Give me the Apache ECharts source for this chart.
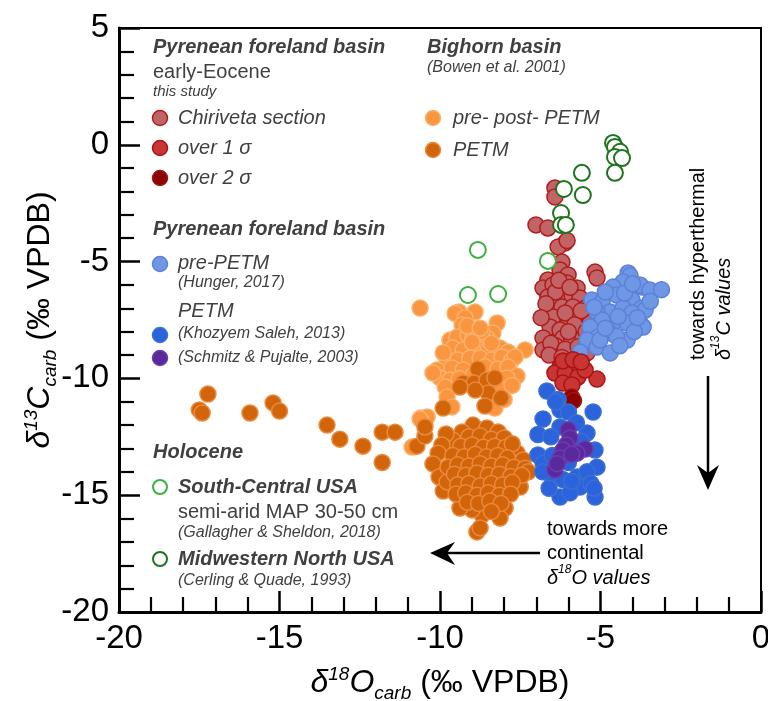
<!DOCTYPE html>
<html>
<head>
<meta charset="utf-8">
<script src="https://cdn.jsdelivr.net/npm/echarts@6/dist/echarts.min.js"></script>
<style>html,body{margin:0;padding:0;background:#fff;}#c{width:768px;height:701px;}</style>
</head>
<body>
<div id="c"></div>
<script>
// ---- axis settings ----
const xRange = [-20, 0];
const yRange = [-20, 5];
const tickStep = 5;

// ---- data: [d18O, d13C] ----
const bighornPrePost = [[-10.62,-6.99],[-9.41,-7.16],[-8.91,-7.16],[-9.53,-7.22],[-9.22,-7.41],[-9.31,-7.71],[-8.22,-7.63],[-8.35,-8.06],[-9.69,-8.36],[-9.47,-8.23],[-9.13,-8.14],[-8.97,-8.27],[-8.54,-8.27],[-8.7,-8.0],[-9.6,-8.7],[-9.28,-8.78],[-8.85,-8.7],[-8.5,-8.78],[-8.13,-8.7],[-7.88,-8.87],[-7.35,-8.78],[-9.78,-9.21],[-9.44,-9.21],[-9.07,-9.13],[-8.75,-9.13],[-8.38,-9.21],[-8.07,-9.08],[-7.76,-9.21],[-7.66,-9.08],[-10.09,-9.64],[-9.63,-9.55],[-9.28,-9.64],[-8.6,-9.5],[-8.2,-9.6],[-7.88,-9.51],[-7.6,-9.9],[-7.91,-9.98],[-10.0,-9.98],[-10.22,-9.77],[-9.69,-10.07],[-9.84,-10.37],[-8.22,-10.37],[-7.75,-10.3],[-9.78,-10.8],[-8.29,-11.27],[-8.0,-10.9],[-9.63,-11.22],[-10.6,-11.7],[-10.4,-11.65],[-10.62,-11.74],[-10.87,-12.94],[-9.0,-9.9],[-9.4,-10.0],[-8.4,-8.5],[-9.9,-8.9],[-9.0,-8.45],[-9.15,-7.75],[-8.75,-7.85]];
const bighornPETM = [[-17.23,-10.67],[-17.5,-11.35],[-17.41,-11.48],[-15.92,-11.48],[-15.2,-11.05],[-15.0,-11.4],[-13.52,-12.0],[-13.12,-12.6],[-12.4,-12.9],[-11.8,-12.3],[-11.4,-12.3],[-11.8,-13.6],[-10.72,-12.9],[-10.47,-12.47],
[-8.82,-9.6],[-9.28,-10.2],[-8.94,-10.2],[-8.54,-10.07],[-8.29,-9.98],[-8.5,-10.62],[-8.1,-10.84],[-8.6,-11.18],[-9.9,-11.27],[-9.38,-10.37],[-8.9,-10.5],[-10.47,-12.08],
[-8.97,-12.0],[-8.54,-12.12],[-8.19,-12.29],[-9.31,-12.29],[-9.6,-12.64],[-9.81,-12.38],[-9.94,-12.85],[-10.06,-13.2],[-10.22,-13.66],[-10.03,-14.22],[-9.9,-14.82],[-9.78,-14.43],[-7.6,-13.19],[-7.41,-13.49],[-7.5,-14.65],[-7.97,-15.55],[-8.13,-15.98],[-8.69,-15.85],[-9.0,-15.63],[-9.38,-15.55],[-8.85,-16.57],[-8.75,-16.4],
[-9.1,-12.5],[-8.75,-12.45],[-8.4,-12.6],[-8.0,-12.55],
[-9.35,-12.9],[-9.0,-12.85],[-8.65,-12.95],[-8.3,-12.9],[-7.95,-12.95],[-7.75,-12.8],
[-9.6,-13.3],[-9.25,-13.35],[-8.9,-13.25],[-8.55,-13.35],[-8.2,-13.3],[-7.9,-13.4],
[-9.75,-13.8],[-9.45,-13.7],[-9.1,-13.75],[-8.75,-13.65],[-8.4,-13.75],[-8.05,-13.7],[-7.7,-13.8],[-7.35,-13.85],[-7.25,-14.0],
[-9.55,-14.1],[-9.2,-14.15],[-8.85,-14.05],[-8.5,-14.15],[-8.15,-14.1],[-7.8,-14.2],[-7.45,-14.15],
[-9.45,-14.55],[-9.1,-14.5],[-8.75,-14.6],[-8.4,-14.5],[-8.05,-14.55],[-7.75,-14.45],
[-9.5,-14.95],[-9.2,-14.9],[-8.85,-15.0],[-8.5,-14.9],[-8.15,-15.0],[-7.8,-14.95],
[-9.15,-15.3],[-8.8,-15.35],[-8.45,-15.25],[-8.1,-15.35],[-8.4,-15.7]];
const chiriveta = [[-6.42,-1.85],[-6.42,-2.23],[-7.01,-3.43],[-6.64,-3.56],[-6.1,-4.2],[-6.32,-4.37],[-6.04,-4.1],[-6.2,-5.02],[-5.17,-5.45],[-5.11,-5.7],
[-6.26,-5.36],[-6.01,-5.57],[-6.64,-5.79],[-6.79,-6.13],[-6.48,-6.0],[-6.04,-5.92],[-5.73,-6.13],[-6.64,-6.52],[-6.26,-6.64],[-5.89,-6.43],[-5.64,-6.56],[-6.57,-7.07],[-6.2,-6.94],[-5.86,-6.94],[-5.48,-6.99],[-6.48,-7.37],[-6.01,-7.59],[-5.64,-7.41],[-5.33,-7.63],[-6.57,-7.8],[-6.26,-7.93],[-5.73,-7.93],[-6.79,-8.27],[-6.17,-8.27],[-6.79,-8.78],[-5.42,-8.91],[-5.95,-8.9],[-6.4,-8.6],[-5.9,-8.4],[-5.55,-8.3],[-6.4,-6.3],[-6.1,-7.2],[-5.8,-7.7],[-6.7,-6.8],[-6.3,-5.8],[-5.6,-7.1],[-5.95,-6.1],[-6.55,-8.5],[-6.1,-8.75],[-5.7,-8.65],[-6.85,-7.4],[-6.0,-8.0],[-5.45,-8.0],[-6.6,-9.0],[-6.2,-9.1],[-5.75,-9.1]];
const over1Sigma = [[-6.26,-9.51],[-6.01,-9.34],[-5.73,-9.51],[-6.42,-9.77],[-6.1,-9.77],[-5.7,-9.94],[-6.17,-10.2],[-5.89,-10.28],[-5.11,-10.03],[-5.48,-9.64],[-6.17,-9.25],[-5.85,-9.2],[-5.6,-9.3]];
const over2Sigma = [[-5.9,-10.8],[-5.84,-10.95]];
const hungerPrePETM = [[-4.14,-5.49],[-4.08,-5.6],[-4.3,-5.87],[-4.61,-6.09],[-3.71,-6.09],[-3.77,-6.0],[-3.46,-6.22],[-3.1,-6.2],[-5.27,-6.64],[-4.95,-6.73],[-4.49,-6.43],[-4.02,-6.64],[-4.7,-7.16],[-4.3,-6.99],[-3.71,-6.99],[-3.61,-7.07],[-5.11,-7.16],[-4.02,-7.2],[-4.61,-7.63],[-4.95,-7.5],[-3.77,-7.63],[-4.17,-7.63],[-3.67,-7.8],[-5.33,-7.8],[-4.7,-8.06],[-5.08,-8.23],[-5.42,-8.36],[-5.11,-8.66],[-4.7,-8.91],[-4.17,-8.36],[-4.5,-8.2],[-5.64,-8.87],[-5.02,-8.36],[-4.4,-8.6],[-3.95,-8.0],[-4.85,-6.3],[-4.25,-6.35],[-3.45,-6.7],[-3.85,-7.4],[-4.45,-7.35],[-4.85,-7.85],[-5.2,-6.95],[-4.0,-5.95]];
const khozyemPETM = [[-6.67,-10.54],[-6.32,-10.9],[-6.26,-11.35],[-6.0,-11.44],[-5.23,-11.44],[-6.79,-11.74],[-6.95,-12.4],[-6.26,-12.08],[-5.42,-12.34],[-5.17,-13.07],[-6.95,-13.28],[-6.79,-13.62],[-5.11,-13.8],[-6.51,-14.22],[-6.17,-14.33],[-5.73,-14.22],[-5.64,-14.65],[-6.26,-15.08],[-5.17,-15.08],[-5.95,-14.9],[-5.42,-14.0],[-6.5,-13.3],[-5.6,-12.7],[-5.75,-11.9],[-6.55,-12.5],[-6.0,-13.6],[-5.3,-14.5],[-6.4,-11.0],[-6.8,-14.0],[-5.2,-14.7],[-6.6,-14.7],[-5.9,-14.4]];
const schmitzPETM = [[-6.01,-12.2],[-5.95,-12.55],[-6.07,-12.85],[-6.17,-13.07],[-6.26,-13.41],[-6.42,-13.92],[-5.48,-13.02],[-5.73,-13.2],[-5.9,-13.25],[-6.35,-13.65]];
const southCentralUSA = [[-8.82,-4.5],[-9.13,-6.43],[-8.19,-6.39],[-6.64,-4.97]];
const midwesternUSA = [[-4.61,0.08],[-4.55,-0.09],[-4.39,-0.3],[-4.55,-0.52],[-4.33,-0.57],[-4.55,-1.2],[-5.58,-1.2],[-5.55,-2.15],[-6.14,-1.89],[-6.23,-2.92],[-6.23,-3.43],[-6.08,-3.43]];

const C = {
  chir: ['#c26466', '#b01c1c'],
  s1: ['#c93434', '#a81414'],
  s2: ['#8c0000', '#a81414'],
  lo: ['#f9963f', '#fbb06c'],
  do: ['#d2640a', '#e98a3e'],
  lb: ['#7096e6', '#5a82d6'],
  bl: ['#2b63dc', '#3c6fcf'],
  pu: ['#5a2a9c', '#6c3cb0'],
  g1: '#3cb03f',
  g2: '#1d741d'
};

function filled(name, data, col) {
  return { name, type: 'scatter', data, symbol: 'circle', symbolSize: 16,
    itemStyle: { color: col[0], borderColor: col[1], borderWidth: 1.5, opacity: 1 }, silent: true };
}
function open(name, data, col) {
  return { name, type: 'scatter', data, symbol: 'circle', symbolSize: 16,
    itemStyle: { color: '#ffffff', borderColor: col, borderWidth: 2, opacity: 1 }, silent: true };
}

const TXT = '#404040';
const F = 'Liberation Sans, Arial, sans-serif';
function t(x, y, text, size, style, weight, color, extra) {
  return Object.assign({ type: 'text', x, y, silent: true,
    style: { text, fill: color || TXT, fontSize: size, fontFamily: F, fontStyle: style || 'normal', fontWeight: weight || 'normal',
      align: 'left', verticalAlign: 'middle', textAlign: 'left', textVerticalAlign: 'middle' } }, extra || {});
}
function dot(cx, cy, col) {
  return { type: 'circle', shape: { cx, cy, r: 7.5 }, silent: true, style: { fill: col[0], stroke: col[1], lineWidth: 1.5 } };
}
function ring(cx, cy, col) {
  return { type: 'circle', shape: { cx, cy, r: 7 }, silent: true, style: { fill: '#fff', stroke: col, lineWidth: 2 } };
}

const BIG = 20, SMALL = 16;
const graphics = [
  t(153, 47, 'Pyrenean foreland basin', BIG, 'italic', 'bold'),
  t(153, 72, 'early-Eocene', BIG),
  t(153, 92, 'this study', 15, 'italic'),
  dot(160, 118, C.chir), t(178, 118, 'Chiriveta section', BIG, 'italic'),
  dot(160, 148, C.s1), t(178, 148, 'over 1 σ', BIG, 'italic'),
  dot(160, 178, C.s2), t(178, 178, 'over 2 σ', BIG, 'italic'),
  t(153, 229, 'Pyrenean foreland basin', BIG, 'italic', 'bold'),
  dot(160, 264, C.lb), t(178, 263, 'pre-PETM', BIG, 'italic'),
  t(178, 283, '(Hunger, 2017)', SMALL, 'italic'),
  t(178, 311, 'PETM', BIG, 'italic'),
  dot(160, 335, C.bl), t(178, 334, '(Khozyem Saleh, 2013)', SMALL, 'italic'),
  dot(160, 358, C.pu), t(178, 358, '(Schmitz & Pujalte, 2003)', SMALL, 'italic'),
  t(153, 452, 'Holocene', BIG, 'italic', 'bold'),
  ring(160, 487, C.g1), t(178, 487, 'South-Central USA', BIG, 'italic', 'bold'),
  t(178, 512, 'semi-arid MAP 30-50 cm', BIG),
  t(178, 533, '(Gallagher & Sheldon, 2018)', SMALL, 'italic'),
  ring(160, 559, C.g2), t(178, 559, 'Midwestern North USA', BIG, 'italic', 'bold'),
  t(178, 581, '(Cerling & Quade, 1993)', SMALL, 'italic'),
  t(427, 47, 'Bighorn basin', BIG, 'italic', 'bold'),
  t(427, 68, '(Bowen et al. 2001)', SMALL, 'italic'),
  dot(433, 118, C.lo), t(453, 118, 'pre- post- PETM', BIG, 'italic'),
  dot(433, 150, C.do), t(453, 150, 'PETM', BIG, 'italic'),
  // vertical arrow
  { type: 'line', silent: true, shape: { x1: 708, y1: 376, x2: 708, y2: 478 }, style: { stroke: '#000', lineWidth: 2.5 } },
  { type: 'polygon', silent: true, shape: { points: [[708, 490], [697, 465], [708, 473], [719, 465]] }, style: { fill: '#000' } },
  // horizontal arrow
  { type: 'line', silent: true, shape: { x1: 540, y1: 553, x2: 442, y2: 553 }, style: { stroke: '#000', lineWidth: 2.5 } },
  { type: 'polygon', silent: true, shape: { points: [[430, 553], [455, 542], [447, 553], [455, 565]] }, style: { fill: '#000' } },
  t(547, 529, 'towards more', BIG, 'normal', 'normal', '#000'),
  t(547, 553, 'continental', BIG, 'normal', 'normal', '#000'),
  { type: 'text', x: 547, y: 576, silent: true, style: { text: '{i|δ}{s|18}{i|O values}', fill: '#000', fontFamily: F,
      align: 'left', verticalAlign: 'middle', textAlign: 'left', textVerticalAlign: 'middle',
      rich: { i: { fontSize: BIG, fontStyle: 'italic', fontFamily: F, fill: '#000', lineHeight: 24, verticalAlign: 'bottom' },
              s: { fontSize: 12, fontStyle: 'italic', fontFamily: F, fill: '#000', lineHeight: 24, verticalAlign: 'top' } } } },
  { type: 'text', x: 698, y: 360, rotation: Math.PI / 2, silent: true, style: { text: 'towards hyperthermal', fill: '#000', fontSize: BIG, fontFamily: F,
      align: 'left', verticalAlign: 'middle', textAlign: 'left', textVerticalAlign: 'middle' } },
  { type: 'text', x: 722, y: 360, rotation: Math.PI / 2, silent: true, style: { text: '{i|δ}{s|13}{i|C values}', fill: '#000', fontFamily: F,
      align: 'left', verticalAlign: 'middle', textAlign: 'left', textVerticalAlign: 'middle',
      rich: { i: { fontSize: BIG, fontStyle: 'italic', fontFamily: F, fill: '#000', lineHeight: 24, verticalAlign: 'bottom' },
              s: { fontSize: 12, fontStyle: 'italic', fontFamily: F, fill: '#000', lineHeight: 24, verticalAlign: 'top' } } } }
];

const AF = 'Liberation Sans, Arial, sans-serif';
const nameRich = {
  i: { fontSize: 32, fontStyle: 'italic', fontFamily: AF, color: '#000', lineHeight: 40, verticalAlign: 'middle' },
  sup: { fontSize: 19, fontStyle: 'italic', fontFamily: AF, color: '#000', lineHeight: 40, verticalAlign: 'top', padding: [2, 0, 0, 0] },
  sub: { fontSize: 19, fontStyle: 'italic', fontFamily: AF, color: '#000', lineHeight: 40, verticalAlign: 'bottom' },
  n: { fontSize: 32, fontFamily: AF, color: '#000', lineHeight: 40, verticalAlign: 'middle' }
};

function axisCommon(range) {
  return {
    type: 'value', min: range[0], max: range[1], interval: tickStep,
    axisLine: { show: true, onZero: false, lineStyle: { color: '#000', width: 3 } },
    axisTick: { show: true, inside: true, length: 21, lineStyle: { color: '#000', width: 2.5 } },
    minorTick: { show: true, splitNumber: 5, length: 15, lineStyle: { color: '#000', width: 2.2 } },
    splitLine: { show: false }, minorSplitLine: { show: false },
    nameMoveOverlap: false,
    axisLabel: { color: '#000', fontSize: 33, fontFamily: AF }
  };
}

const chart = echarts.init(document.getElementById('c'), null, { renderer: 'canvas' });
chart.setOption({
  animation: false,
  backgroundColor: '#fff',
  grid: { left: 119, right: 7, top: 28, bottom: 89, show: true, borderColor: '#000', borderWidth: 2,
    containLabel: false, outerBoundsMode: 'none' },
  xAxis: Object.assign(axisCommon(xRange), {
    name: '{i|δ}{sup|18}{i|O}{sub|carb}{n| (‰ VPDB)}', nameLocation: 'middle', nameGap: 51,
    nameTextStyle: { rich: nameRich },
    axisLabel: { color: '#000', fontSize: 33, fontFamily: AF, margin: 10 }
  }),
  yAxis: Object.assign(axisCommon(yRange), {
    name: '{i|δ}{sup|13}{i|C}{sub|carb}{n| (‰ VPDB)}', nameLocation: 'middle', nameGap: 59, nameRotate: 90,
    nameTextStyle: { rich: nameRich },
    axisLabel: { color: '#000', fontSize: 33, fontFamily: AF, margin: 10 }
  }),
  series: [
    filled('pre- post- PETM', bighornPrePost, C.lo),
    filled('PETM Bighorn', bighornPETM, C.do),
    filled('Chiriveta section', chiriveta, C.chir),
    filled('pre-PETM', hungerPrePETM, C.lb),
    filled('over 1 σ', over1Sigma, C.s1),
    filled('over 2 σ', over2Sigma, C.s2),
    filled('Khozyem Saleh', khozyemPETM, C.bl),
    filled('Schmitz & Pujalte', schmitzPETM, C.pu),
    open('South-Central USA', southCentralUSA, C.g1),
    open('Midwestern North USA', midwesternUSA, C.g2)
  ],
  graphic: graphics
});
</script>
</body>
</html>
